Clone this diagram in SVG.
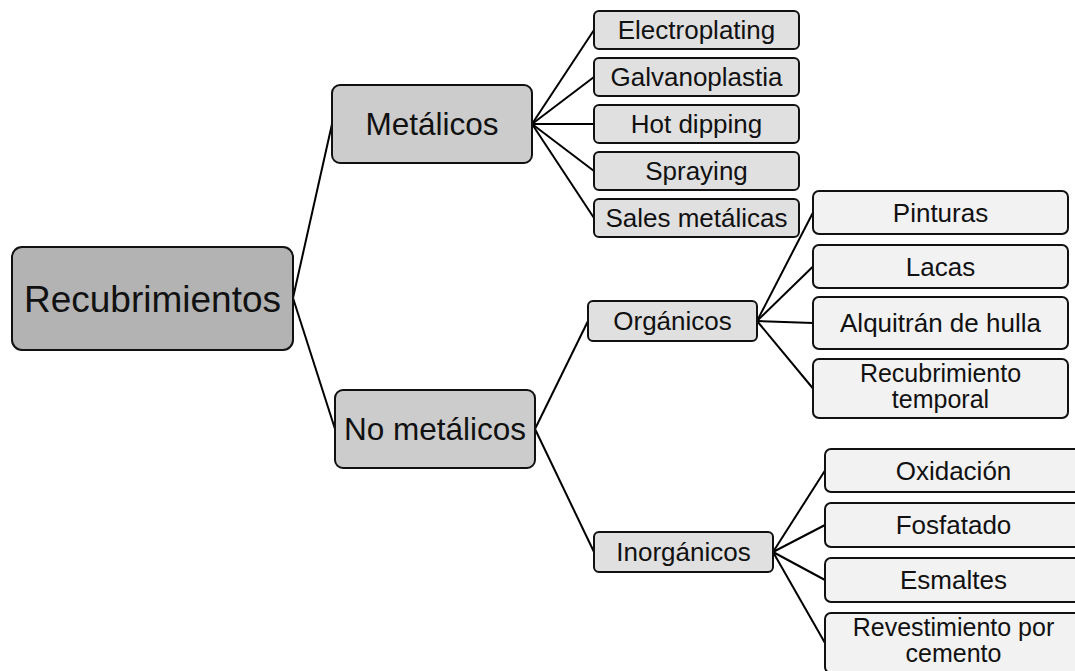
<svg xmlns="http://www.w3.org/2000/svg" width="1075" height="671" viewBox="0 0 1075 671">
<style>
rect{stroke:#111;stroke-width:2}
.l0{fill:#b3b3b3}
.l1{fill:#cccccc}
.l2{fill:#e0e0e0}
.l3{fill:#f2f2f2}
text{font-family:"Liberation Sans",Arial,sans-serif;fill:#111;text-anchor:middle}
.t0{font-size:37px}
.t1{font-size:31.5px}
.t2{font-size:26px}
.t3{font-size:25px}
#connectors line{stroke:#000;stroke-width:2}
</style>
<rect width="1075" height="671" fill="#fff" style="stroke:none"/>
<g id="connectors">
<line x1="293" y1="298" x2="332" y2="124"/>
<line x1="293" y1="298" x2="335" y2="429"/>
<line x1="532" y1="124" x2="594" y2="30"/>
<line x1="532" y1="124" x2="594" y2="77"/>
<line x1="532" y1="124" x2="594" y2="124"/>
<line x1="532" y1="124" x2="594" y2="171"/>
<line x1="532" y1="124" x2="594" y2="218"/>
<line x1="535" y1="429" x2="588" y2="321"/>
<line x1="535" y1="429" x2="594" y2="552"/>
<line x1="757" y1="321" x2="813" y2="212.5"/>
<line x1="757" y1="321" x2="813" y2="266.5"/>
<line x1="757" y1="321" x2="813" y2="323"/>
<line x1="757" y1="321" x2="813" y2="388.5"/>
<line x1="773" y1="552" x2="825" y2="470.5"/>
<line x1="773" y1="552" x2="825" y2="525"/>
<line x1="773" y1="552" x2="825" y2="580"/>
<line x1="773" y1="552" x2="825" y2="643"/>
</g>
<g id="root"><rect class="l0" x="12" y="247" width="281" height="103" rx="10"/><text class="t0" x="152.5" y="312">Recubrimientos</text></g>
<g id="metalicos"><rect class="l1" x="332" y="85" width="200" height="78" rx="8"/><text class="t1" x="432" y="135">Metálicos</text></g>
<g id="nometalicos"><rect class="l1" x="335" y="390" width="200" height="78" rx="8"/><text class="t1" x="435" y="440">No metálicos</text></g>
<g id="electroplating"><rect class="l2" x="594" y="11" width="205" height="38" rx="5"/><text class="t2" x="696.5" y="39">Electroplating</text></g>
<g id="galvanoplastia"><rect class="l2" x="594" y="58" width="205" height="38" rx="5"/><text class="t2" x="696.5" y="86">Galvanoplastia</text></g>
<g id="hotdipping"><rect class="l2" x="594" y="105" width="205" height="38" rx="5"/><text class="t2" x="696.5" y="133">Hot dipping</text></g>
<g id="spraying"><rect class="l2" x="594" y="152" width="205" height="38" rx="5"/><text class="t2" x="696.5" y="180">Spraying</text></g>
<g id="sales"><rect class="l2" x="594" y="199" width="205" height="38" rx="5"/><text class="t2" x="696.5" y="227">Sales metálicas</text></g>
<g id="organicos"><rect class="l2" x="588" y="301" width="169" height="40" rx="5"/><text class="t2" x="672.5" y="330">Orgánicos</text></g>
<g id="inorganicos"><rect class="l2" x="594" y="532" width="179" height="40" rx="5"/><text class="t2" x="683.5" y="561">Inorgánicos</text></g>
<g id="pinturas"><rect class="l3" x="813" y="191" width="255" height="43" rx="6"/><text class="t2" x="940.5" y="222">Pinturas</text></g>
<g id="lacas"><rect class="l3" x="813" y="245" width="255" height="43" rx="6"/><text class="t2" x="940.5" y="276">Lacas</text></g>
<g id="alquitran"><rect class="l3" x="813" y="297" width="255" height="52" rx="6"/><text class="t2" x="940.5" y="332">Alquitrán de hulla</text></g>
<g id="recubtemporal"><rect class="l3" x="813" y="359" width="255" height="59" rx="6"/><text class="t3" x="940.5" y="382">Recubrimiento<tspan x="940.5" dy="26">temporal</tspan></text></g>
<g id="oxidacion"><rect class="l3" x="825" y="449" width="257" height="43" rx="6"/><text class="t2" x="953.5" y="480">Oxidación</text></g>
<g id="fosfatado"><rect class="l3" x="825" y="503" width="257" height="44" rx="6"/><text class="t2" x="953.5" y="534">Fosfatado</text></g>
<g id="esmaltes"><rect class="l3" x="825" y="558" width="257" height="44" rx="6"/><text class="t2" x="953.5" y="589">Esmaltes</text></g>
<g id="revestimiento"><rect class="l3" x="825" y="613" width="257" height="60" rx="6"/><text class="t3" x="953.5" y="636">Revestimiento por<tspan x="953.5" dy="26">cemento</tspan></text></g>
</svg>
